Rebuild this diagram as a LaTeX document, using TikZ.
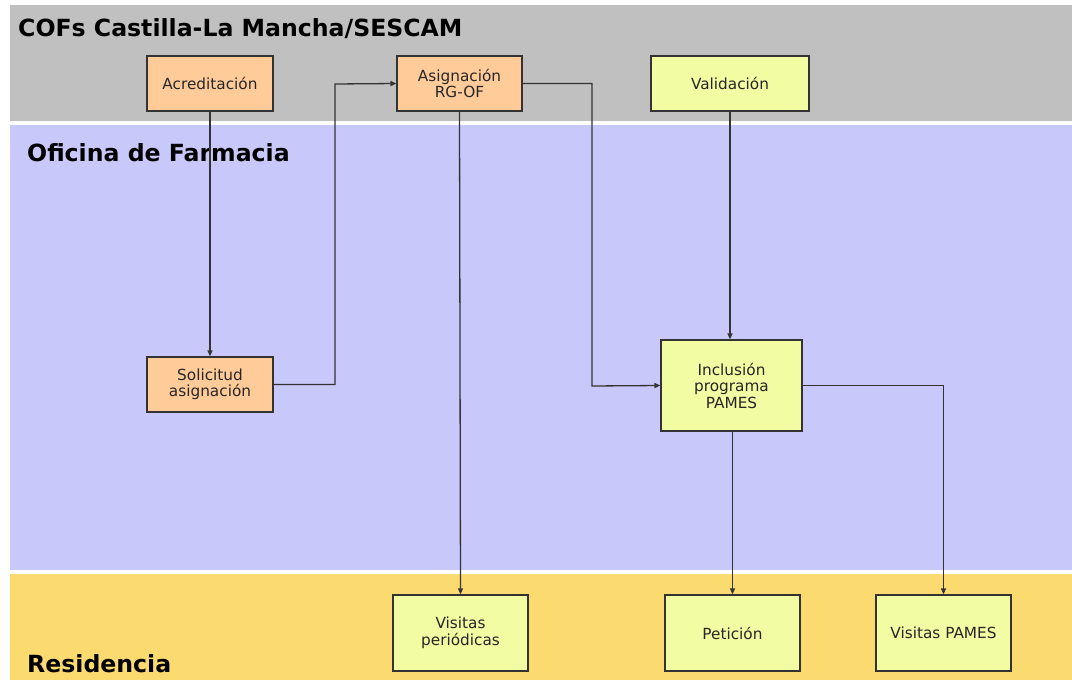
\documentclass[tikz,border=0pt]{standalone}
\usepackage{fontspec}
\setmainfont{DejaVu Sans}
\usetikzlibrary{arrows.meta}
\definecolor{lanegray}{HTML}{C0C0C0}
\definecolor{lanelav}{HTML}{C8C8FA}
\definecolor{laneyel}{HTML}{FBDA70}
\definecolor{peach}{HTML}{FFCC99}
\definecolor{lightyel}{HTML}{F2FCA2}
\definecolor{linec}{HTML}{333333}
\tikzset{
  box/.style={draw=linec, line width=1.2pt, inner sep=0pt, align=center,
    font=\fontsize{15.3}{16.5}\selectfont, text=black!85},
  peachbox/.style={box, fill=peach},
  yelbox/.style={box, fill=lightyel},
  lanetitle/.style={anchor=base west, inner sep=0pt, font=\bfseries\fontsize{23.6}{26}\selectfont},
  conn/.style={draw=linec, line width=1.3pt, -{Triangle[length=6pt,width=5pt]}}
}
\begin{document}
\begin{tikzpicture}[x=1pt,y=-1pt]
\useasboundingbox (0,0) rectangle (1072,680);
\fill[white] (0,0) rectangle (1072,680);
\fill[lanegray] (10,5) rectangle (1072,121);
\fill[lanelav] (10,125) rectangle (1072,570);
\fill[laneyel] (10,574) rectangle (1072,680);

\node[lanetitle] (t1) at (18,36) {COFs Castilla-La Mancha/SESCAM};
\node[lanetitle] (t2) at (27,161) {Oficina de Farmacia};
\node[lanetitle] (t3) at (27,672) {Residencia};

\node[peachbox, minimum width=126pt, minimum height=55pt] (acr) at (210,83.5) {Acreditación};
\node[peachbox, minimum width=125pt, minimum height=55pt] (asg) at (459.5,83.5) {Asignación\\RG-OF};
\node[yelbox, minimum width=158pt, minimum height=55pt] (val) at (730,83.5) {Validación};
\node[peachbox, minimum width=126pt, minimum height=55pt] (sol) at (210,384.5) {Solicitud\\asignación};
\node[yelbox, minimum width=141pt, minimum height=91pt] (inc) at (731.5,385.5) {Inclusión\\programa\\PAMES};
\node[yelbox, minimum width=135pt, minimum height=76pt] (vper) at (460.5,633) {Visitas\\periódicas};
\node[yelbox, minimum width=135pt, minimum height=76pt] (pet) at (732.5,633) {Petición};
\node[yelbox, minimum width=135pt, minimum height=76pt] (vpam) at (943.5,633) {Visitas PAMES};

\draw[conn] (acr.south) -- (sol.north);
\draw[conn] (sol.east) -| (335,84) -- (asg.west);
\draw[conn] (asg.east) -| (592,386) -- (inc.west);
\draw[conn] (asg.south) -- (vper.north);
\draw[conn] (val.south) -- (val.south |- inc.north);
\draw[conn] (pet.north |- inc.south) -- (pet.north);
\draw[conn] (inc.east) -| (vpam.north);
\end{tikzpicture}
\end{document}
